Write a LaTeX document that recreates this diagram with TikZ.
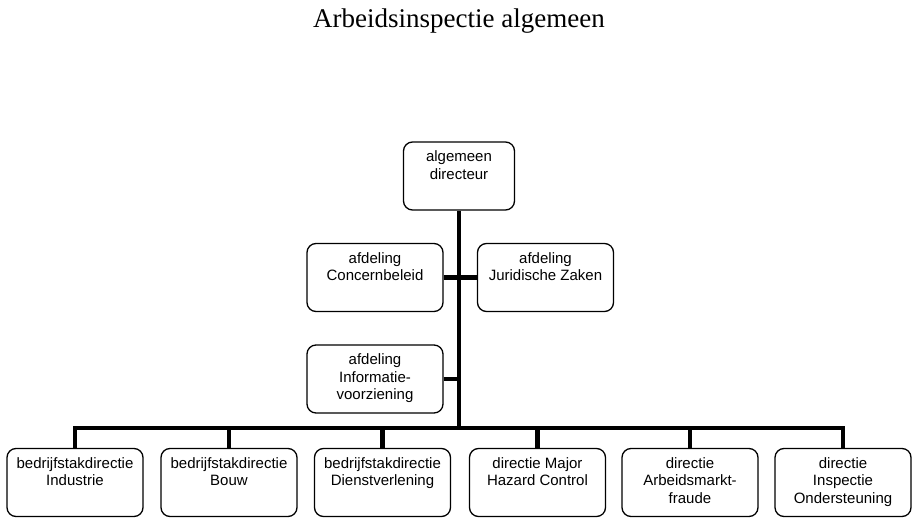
\documentclass[tikz,border=0pt]{standalone}
\usepackage{fontspec}
\setmainfont{Liberation Sans}
\newfontfamily\titlefont{Liberation Serif}
\usetikzlibrary{positioning}
% text at the top of a box
\newcommand{\boxtext}[2][132pt]{\parbox[c][50pt][t]{#1}{\centering #2}}

\begin{document}
\begin{tikzpicture}[
  x=1pt, y=-1pt,
  unit/.style={draw, line width=1.3pt, rounded corners=9pt, inner sep=0pt,
    minimum width=136pt, minimum height=68pt,
    font=\fontsize{15}{17.5}\selectfont},
  link/.style={line width=4.5pt}
]
  \useasboundingbox (0,0) rectangle (918,526);
  \node[font=\titlefont\fontsize{27}{30}\selectfont] (title) at (459,21) {Arbeidsinspectie algemeen};
  % top
  \node[unit, minimum width=111pt] (dir) at (459,176) {\boxtext[106pt]{algemeen\\directeur}};
  % staff
  \node[unit] (concern) at (375,277.5) {\boxtext{afdeling\\Concernbeleid}};
  \node[unit] (jur) at (545.5,277.5) {\boxtext{afdeling\\Juridische Zaken}};
  \node[unit] (info) at (375,379) {\boxtext{afdeling\\Informatie-\\voorziening}};
  % directies
  \node[unit] (ind) at (75,482.5) {\boxtext{bedrijfstakdirectie\\Industrie}};
  \node[unit] (bouw) at (229,482.5) {\boxtext{bedrijfstakdirectie\\Bouw}};
  \node[unit] (dienst) at (382.5,482.5) {\boxtext{bedrijfstakdirectie\\Dienstverlening}};
  \node[unit] (mhc) at (537.5,482.5) {\boxtext{directie Major\\Hazard Control}};
  \node[unit] (amf) at (690,482.5) {\boxtext{directie\\Arbeidsmarkt-\\fraude}};
  \node[unit] (iso) at (843,482.5) {\boxtext{directie\\Inspectie\\Ondersteuning}};
  % lines
  \coordinate (bar) at (459,428);
  \draw[link] (dir.south) -- (dir.south |- bar);
  \draw[link] (concern.east) -- (jur.west);
  \draw[link] (info.east) -- (info.east -| dir.south);
  \draw[link] (ind.north) -- (ind.north |- bar) -- (iso.north |- bar) -- (iso.north);
  \foreach \n in {bouw,dienst,mhc,amf}
    \draw[link] (\n.north) -- (\n.north |- bar);
\end{tikzpicture}
\end{document}
